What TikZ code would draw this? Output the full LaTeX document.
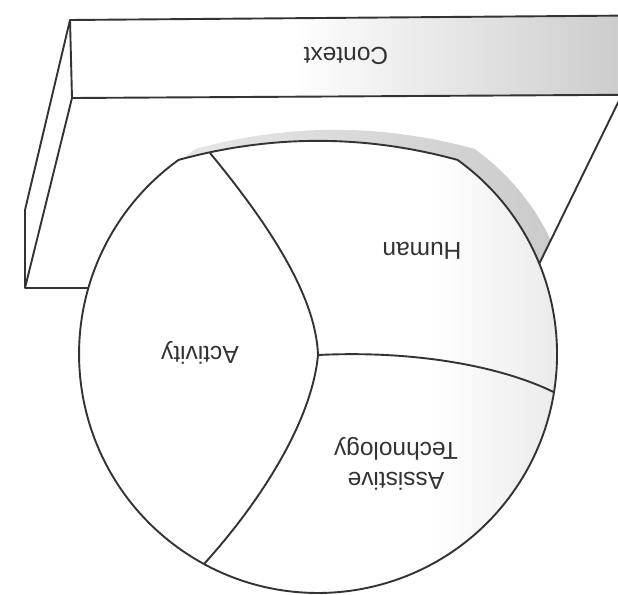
\documentclass[tikz,border=0pt]{standalone}
\usepackage{fontspec}
\setmainfont{Liberation Sans}
\begin{document}
\begin{tikzpicture}[x=1pt,y=-1pt,line join=round,
  outline/.style={draw=black!80,line width=1.9pt},
  lbl/.style={rotate=180,font=\fontsize{24.5}{29.5}\selectfont,text=black!80,inner sep=0pt,align=center}]
\useasboundingbox (0,0) rectangle (618,594);
\def\blob{(457.5,159.9) arc[start angle=-54.3,end angle=234.3,radius=239] .. controls (271.5,134.5) and (364.5,134.5) .. (457.5,159.9) -- cycle}
% named points
\coordinate (K1) at (70,20);
\coordinate (K2) at (72,98);
\coordinate (K3) at (25,210);
\coordinate (K4) at (25,288);
\coordinate (K5) at (88.3,288);
\coordinate (K6) at (622,15.6);
\coordinate (K7) at (622,94.8);
\coordinate (E) at (621,96.5);
\coordinate (D) at (539.3,263.7);
\coordinate (P1) at (210,153);
\coordinate (J) at (318,355);
\coordinate (B) at (204,564);
\coordinate (F) at (553.9,392.2);
% shadow
\begin{scope}
  \clip (0,0) -- (621,0) -- (E) -- (D) -- (0,266) -- cycle;
  \begin{scope}[shift={(17,-11)}]
    \shade[left color=gray!14,right color=gray!44] \blob;
  \end{scope}
\end{scope}
% context box
\fill[white] (K1) -- (K6) -- (K7) -- (K2) -- cycle;
\shade[left color=white,right color=gray!40] (290,18.3) -- (K6) -- (K7) -- (290,96.5) -- cycle;
\draw[outline] (K6) -- (K1) -- (K3) -- (K4) -- (K5);
\draw[outline] (K7) -- (K2) -- (K4);
\draw[outline] (K1) -- (K2);
\draw[outline] (E) -- (D);
% circle
\fill[white] \blob;
\begin{scope}
  \clip \blob;
  \shade[left color=white,right color=gray!16] (430,120) rectangle (560,600);
\end{scope}
\draw[outline] \blob;
\draw[outline] (P1) .. controls (272,228) and (316,298) .. (J);
\draw[outline] (J) .. controls (312,420) and (262,500) .. (B);
\draw[outline] (J) .. controls (420,350) and (505,368) .. (F);
% labels
\node[lbl] (ctx) at (346,56) {Context};
\node[lbl] (hum) at (422,251) {Human};
\node[lbl] (act) at (200,353) {Activity};
\node[lbl] (at) at (396,464) {Assistive\\Technology};
\end{tikzpicture}
\end{document}
